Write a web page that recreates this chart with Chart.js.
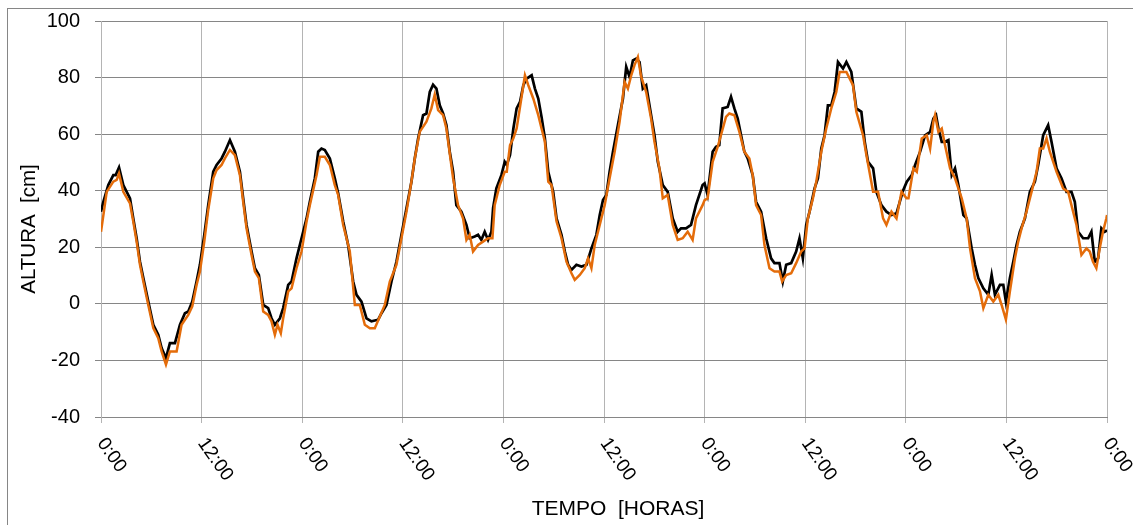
<!DOCTYPE html>
<html>
<head>
<meta charset="utf-8">
<script src="https://cdn.jsdelivr.net/npm/chart.js@4.4.1/dist/chart.umd.min.js"></script>
<style>
  html, body { margin: 0; padding: 0; background: #fff; }
  canvas { display: block; }
</style>
</head>
<body>
<canvas id="tideChart" width="1133" height="525"></canvas>
<script>
// measured level (black): time in hours from the first 0:00, height in cm
const horasMedida = [
  0, 0.28, 0.87, 1.47, 1.75, 2.15, 2.66, 3.46, 3.85, 4.25, 4.65, 5.05, 5.64, 6.24, 6.83, 7.23,
  7.75, 8.22, 8.82, 9.42, 10.01, 10.41, 10.89, 11.4, 11.8, 12.32, 12.79, 13.39, 13.79, 14.38, 14.78, 15.38,
  15.97, 16.57, 16.96, 17.36, 17.96, 18.36, 18.83, 19.35, 19.94, 20.34, 20.74, 21.34, 21.73, 22.33, 22.73, 23.32,
  23.92, 24.52, 24.91, 25.51, 25.91, 26.3, 26.7, 27.3, 27.89, 28.29, 28.89, 29.48, 30.08, 30.48, 31.07, 31.67,
  32.26, 33.06, 33.46, 34.05, 34.65, 35.24, 35.84, 36.44, 37.03, 37.43, 37.83, 38.42, 38.82, 39.22, 39.61, 40.01,
  40.41, 40.81, 41.2, 41.6, 42, 42.39, 42.99, 43.59, 43.98, 44.58, 44.98, 45.37, 45.77, 46.17, 46.57, 46.77,
  47.16, 47.76, 48.16, 48.4, 48.79, 49.19, 49.58, 49.98, 50.38, 50.77, 51.37, 51.76, 52.16, 52.55, 52.95, 53.35,
  53.94, 54.34, 54.93, 55.33, 55.72, 56.12, 56.71, 57.31, 57.9, 58.5, 59.09, 59.49, 59.88, 60.28, 60.67, 61.07,
  61.66, 62.26, 62.65, 63.05, 63.45, 63.84, 64.24, 64.63, 65.03, 65.62, 66.02, 66.42, 67.01, 67.6, 68.2, 68.79,
  69.19, 69.78, 70.38, 70.97, 71.76, 72, 72.36, 72.96, 73.36, 73.75, 74.15, 74.75, 75.15, 75.55, 75.95, 76.35,
  76.74, 77.14, 77.74, 78.14, 78.74, 79.34, 79.93, 80.33, 80.93, 81.33, 81.73, 82.33, 82.92, 83.32, 83.72, 84.12,
  84.52, 85.12, 85.52, 85.92, 86.31, 86.71, 87.11, 87.51, 87.91, 88.51, 88.91, 89.5, 90.1, 90.7, 91.1, 91.5,
  92.1, 92.49, 93.09, 93.69, 94.29, 94.89, 95.29, 95.69, 96.12, 96.71, 97.11, 97.71, 98.3, 98.9, 99.29, 99.61,
  99.89, 100.29, 100.68, 101.08, 101.48, 101.87, 102.27, 102.87, 103.26, 103.86, 104.25, 104.65, 105.25, 105.84, 106.24, 106.63,
  107.23, 107.63, 107.94, 108.42, 108.82, 109.21, 109.61, 110.21, 110.8, 111.4, 111.79, 112.39, 112.98, 113.38, 113.98, 114.57,
  115.17, 115.76, 116.16, 116.56, 117.15, 117.75, 118.14, 118.54, 118.94, 119.33, 119.72, 120
];
const alturaMedida = [
  32.6, 36.1, 42, 45.5, 45.5, 48.2, 42, 37.3, 30.2, 23.2, 14.9, 9.1, 0.8, -7.4, -10.9, -15.6,
  -19.2, -13.9, -13.9, -7.4, -3.3, -2.7, 0.8, 7.9, 13.8, 24.4, 34.9, 46.7, 49.1, 51.4, 53.8, 57.9,
  53.8, 46.7, 37.3, 27.9, 18.5, 12.6, 10.2, -0.4, -1.5, -5.1, -7.4, -5.1, -1.5, 6.7, 7.9, 16.1,
  23.2, 30.2, 36.1, 44.4, 53.8, 54.9, 54.4, 51.4, 44.4, 39.1, 29.1, 20.8, 7.9, 3.2, 0.8, -5.1,
  -6.2, -5.6, -3.3, -0.4, 7.9, 14.9, 24.4, 33.8, 43.2, 51.4, 58.5, 66.7, 67.3, 74.9, 77.5, 76.1,
  70.2, 67.3, 63.2, 53.8, 46.7, 34.9, 32.6, 27.9, 23.2, 23.8, 24.4, 22.6, 25.5, 22.6, 25.5, 33.8,
  40.8, 45.5, 50.2, 49.1, 52.6, 62, 69.1, 71.4, 77.3, 79.6, 80.8, 76.1, 72.6, 66.1, 58.5, 46.7,
  39.6, 30.2, 24.4, 18.5, 13.8, 12, 13.8, 13.2, 13.8, 19.6, 24.4, 31.4, 36.7, 38.5, 46.7, 53.8,
  63.2, 72.6, 83.8, 80.2, 86.1, 86.7, 85.5, 76.1, 77.3, 66.7, 59.6, 50.2, 42, 39.6, 30.2, 25.5,
  26.7, 26.7, 27.9, 34.9, 42, 42.6, 38.5, 53.8, 55.5, 56.1, 69.1, 69.6, 73.2, 69.1, 65.5, 59.6,
  53.8, 51.4, 45.5, 36.1, 32.6, 23.2, 16.1, 14.4, 14.4, 7.9, 13.8, 14.4, 18.5, 23.2, 16.1, 27.9,
  32.6, 40.8, 44.4, 54.9, 59.6, 70.2, 70.2, 74.9, 85.5, 83.2, 85.5, 82, 69.1, 67.9, 57.3, 50.2,
  47.9, 39.6, 34.9, 32.6, 31.4, 32, 36.1, 40.2, 43.2, 45.5, 49.1, 53.8, 59.6, 60.8, 65.5, 66.7,
  62, 57.3, 57.3, 57.9, 45.5, 47.9, 42, 31.4, 30.2, 19.6, 13.8, 9.1, 5.5, 3.2, 10.2, 3.2,
  6.7, 6.7, 0.8, 9.1, 14.9, 20.8, 25.5, 30.2, 39.6, 43.2, 49.1, 59.6, 63.2, 57.3, 47.9, 44.4,
  39.6, 39.6, 36.1, 25.5, 23.2, 23.2, 25.5, 14.9, 16.1, 26.7, 25.5, 26
];

// predicted level (orange)
const horasPrevista = [
  0, 0.68, 1.47, 1.87, 2.15, 2.66, 3.46, 3.85, 4.25, 4.65, 5.05, 5.64, 6.24, 6.83, 7.23, 7.75,
  8.22, 9.02, 9.61, 10.41, 10.89, 11.4, 11.8, 12.32, 12.79, 13.39, 13.79, 14.38, 14.78, 15.38, 15.97, 16.57,
  16.96, 17.36, 17.96, 18.36, 18.83, 19.35, 19.94, 20.34, 20.74, 21.06, 21.45, 21.73, 22.33, 22.73, 23.32, 23.92,
  24.52, 24.91, 25.71, 26.11, 26.7, 27.3, 27.89, 28.29, 28.89, 29.68, 30.28, 30.87, 31.47, 32.07, 32.66, 33.26,
  33.85, 34.45, 35.24, 35.84, 36.44, 37.03, 37.43, 38.02, 38.82, 39.41, 39.81, 40.21, 40.81, 41.2, 42, 42.59,
  43.19, 43.59, 43.98, 44.38, 44.98, 45.57, 46.17, 46.69, 46.96, 47.56, 48.16, 48.4, 48.79, 49.19, 49.58, 49.98,
  50.57, 50.97, 51.56, 52.16, 52.55, 52.95, 53.35, 53.74, 54.34, 54.93, 55.52, 56.12, 56.51, 57.11, 57.7, 58.1,
  58.5, 58.89, 59.49, 60.08, 60.67, 61.27, 61.86, 62.46, 62.85, 63.25, 63.64, 64.04, 64.44, 65.03, 65.62, 66.02,
  66.61, 67.01, 67.6, 68.2, 68.79, 69.39, 69.98, 70.57, 70.97, 71.76, 72, 72.36, 72.96, 73.56, 73.95, 74.55,
  74.95, 75.55, 76.15, 76.74, 77.34, 77.74, 78.14, 78.74, 79.14, 79.74, 80.33, 80.93, 81.25, 81.73, 82.33, 82.92,
  83.52, 83.92, 84.32, 84.92, 85.32, 85.92, 86.51, 87.11, 87.71, 88.11, 88.91, 89.7, 90.1, 90.9, 91.3, 92.1,
  92.69, 93.29, 93.69, 94.29, 94.89, 95.49, 96.08, 96.32, 96.91, 97.31, 97.9, 98.5, 98.9, 99.29, 99.49, 99.89,
  100.29, 100.68, 101.28, 101.87, 102.67, 103.26, 103.66, 104.25, 104.85, 105.25, 105.84, 106.44, 107.03, 107.43, 107.94, 108.42,
  109.02, 109.41, 109.81, 110.4, 111, 111.6, 111.99, 112.39, 112.79, 113.18, 113.98, 114.77, 115.37, 115.76, 116.36, 116.95,
  117.54, 117.94, 118.33, 118.73, 119.13, 119.52, 119.92, 120
];
const alturaPrevista = [
  25.5, 39.6, 43.2, 43.8, 46.1, 39.6, 35.5, 29.1, 22, 13.8, 7.9, -0.4, -8.6, -12.1, -16.8, -21.5,
  -16.8, -16.8, -7.4, -3.9, -0.9, 6.7, 11.4, 22, 33.2, 44.4, 47.3, 49.1, 51.4, 54.4, 52.6, 45.5,
  36.1, 26.7, 17.3, 11.4, 9.1, -2.7, -3.9, -6.2, -10.9, -7.4, -10.4, -5.1, 4.4, 5.5, 12.6, 18.5,
  29.1, 34.9, 45.5, 52, 52, 49.1, 42, 38.5, 27.9, 18.5, -0.4, -0.4, -7.4, -8.6, -8.6, -4.5,
  -0.4, 7.9, 13.8, 23.2, 32.6, 43.2, 51.4, 60.8, 64.4, 69.1, 74, 68.5, 66.7, 62, 44.4, 34.9,
  30.2, 22.6, 24.4, 18.5, 20.8, 22, 23.2, 23.2, 34.9, 42, 46.7, 46.7, 56.1, 58.5, 62, 69.6,
  80.8, 77.3, 72.6, 66.7, 62, 57.3, 43.2, 42, 29.1, 23.2, 14.9, 10.8, 8.5, 10.2, 12.6, 16.1,
  12.6, 20.8, 27.9, 34.9, 44.4, 53.8, 64.4, 78.5, 76.1, 80.8, 84.4, 87.3, 80.2, 74.9, 65.5, 57.3,
  47.9, 37.3, 38.5, 27.9, 22.6, 23.2, 25.5, 22.6, 30.2, 34.9, 36.7, 37.3, 50.2, 55.5, 59.6, 66.1,
  67.3, 66.7, 60.8, 53.8, 51.4, 45.5, 34.9, 31.4, 20.8, 12.6, 11.4, 11.4, 7.9, 10.2, 10.8, 14.4,
  18.5, 19.6, 30.2, 37.3, 43.2, 53.8, 62, 69.1, 74.9, 82, 82, 77.3, 67.9, 59.6, 52.6, 39.6,
  39.6, 30.2, 27.9, 32.6, 30.2, 39.6, 37.3, 37.3, 47.9, 46.7, 58.5, 59.6, 54.9, 64.4, 66.7, 60.8,
  62, 56.1, 47.9, 44.4, 37.3, 30.2, 19.6, 9.1, 4.4, -1.5, 3.2, 0.8, 3.2, -0.4, -5.6, 4.4,
  16.1, 22, 26.7, 32.6, 39.6, 46.7, 54.9, 54.9, 58.5, 53.8, 46.7, 40.8, 39.6, 34.9, 27.9, 17.3,
  19.6, 18.5, 14.9, 12.6, 19.6, 25.5, 30.2, 31.4
];

const tickHours = [0, 12, 24, 36, 48, 60, 72, 84, 96, 108, 120];
const tickLabels = ['0:00', '12:00', '0:00', '12:00', '0:00', '12:00', '0:00', '12:00', '0:00', '12:00', '0:00'];

function toPoints(xs, ys) {
  return ys.map(function (v, i) { return { x: xs[i], y: v }; });
}

// draws the frame, the slanted time labels and both axis titles
const decorPlugin = {
  id: 'decor',
  beforeDraw: function (chart) {
    const c = chart.ctx;
    c.save();
    c.fillStyle = '#fff';
    c.fillRect(0, 0, chart.width, chart.height);
    c.strokeStyle = '#868686';
    c.lineWidth = 1;
    c.strokeRect(7.5, 8.5, chart.width + 20, chart.height + 20);
    c.restore();
  },
  afterDraw: function (chart) {
    const c = chart.ctx;
    const xs = chart.scales.x;
    c.save();
    c.fillStyle = '#000';
    c.font = '19px "Liberation Sans", Arial, sans-serif';
    c.textAlign = 'left';
    c.textBaseline = 'middle';
    tickHours.forEach(function (h, i) {
      c.save();
      c.translate(xs.getPixelForValue(h), 440);
      c.rotate(55 * Math.PI / 180);
      c.fillText(tickLabels[i], 0, 0);
      c.restore();
    });

    c.font = '21px "Liberation Sans", Arial, sans-serif';
    c.textAlign = 'center';
    c.fillText('TEMPO  [HORAS]', 618, 509);

    c.font = '20.5px "Liberation Sans", Arial, sans-serif';
    c.save();
    c.translate(29, 229);
    c.rotate(-Math.PI / 2);
    c.fillText('ALTURA  [cm]', 0, 0);
    c.restore();
    c.restore();
  }
};

const ctx = document.getElementById('tideChart').getContext('2d');
new Chart(ctx, {
  type: 'line',
  data: {
    datasets: [{
      label: 'Medido',
      data: toPoints(horasMedida, alturaMedida),
      borderColor: '#000000',
      borderWidth: 2.7,
      pointRadius: 0,
      tension: 0,
      order: 2
    }, {
      label: 'Previsto',
      data: toPoints(horasPrevista, alturaPrevista),
      borderColor: '#e46c0a',
      borderWidth: 2.5,
      pointRadius: 0,
      tension: 0,
      order: 1
    }]
  },
  options: {
    responsive: false,
    animation: false,
    layout: { padding: { top: 21, right: 26, left: 0, bottom: 0 } },
    plugins: {
      legend: { display: false },
      tooltip: { enabled: false }
    },
    scales: {
      x: {
        type: 'linear',
        min: 0,
        max: 120,
        afterFit: function (scale) {
          scale.height = 108;
          scale.paddingLeft = 0;
          scale.paddingRight = 0;
        },
        afterBuildTicks: function (scale) {
          scale.ticks = tickHours.map(function (h) { return { value: h }; });
        },
        ticks: { display: false },
        grid: { color: '#b4b4b4', tickLength: 6, tickColor: '#b4b4b4' },
        border: { color: '#868686' }
      },
      y: {
        min: -40,
        max: 100,
        afterFit: function (scale) {
          scale.width = 101;
          scale.paddingTop = 0;
          scale.paddingBottom = 0;
        },
        ticks: {
          stepSize: 20,
          padding: 15,
          color: '#000',
          font: { family: '"Liberation Sans", Arial, sans-serif', size: 20 }
        },
        grid: { color: '#868686', tickLength: 6, tickColor: '#868686' },
        border: { color: '#b4b4b4' }
      }
    }
  },
  plugins: [decorPlugin]
});
</script>
</body>
</html>
